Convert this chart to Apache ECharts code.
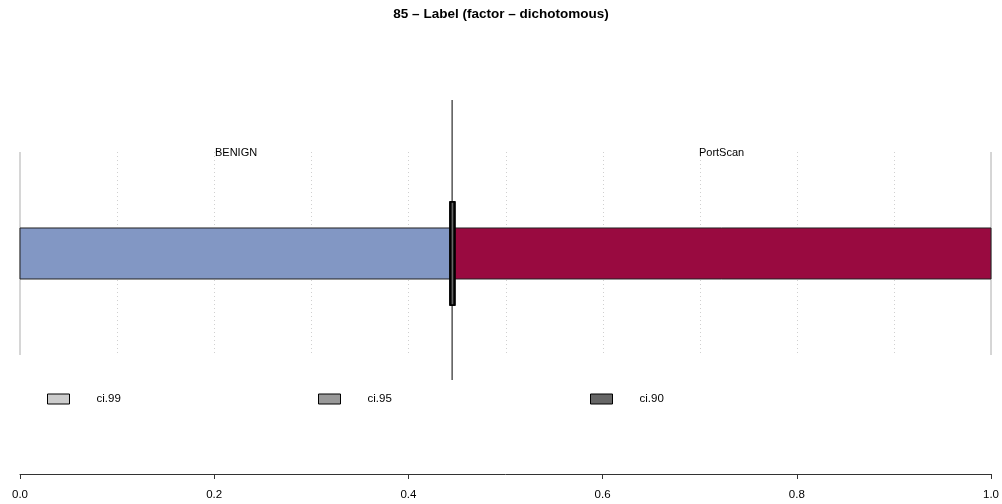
<!DOCTYPE html>
<html>
<head>
<meta charset="utf-8">
<script src="https://cdn.jsdelivr.net/npm/echarts@6/dist/echarts.min.js"></script>
<style>
html,body{margin:0;padding:0;background:#fff;}
#chart{width:1002px;height:504px;}
</style>
</head>
<body>
<div id="chart"></div>
<script>
// ---- data ----
const titleText = '85 \u2013 Label (factor \u2013 dichotomous)';
const categories = ['BENIGN', 'PortScan'];
const proportions = [0.445, 0.555];
const categoryColors = ['#8297C4', '#990A40'];
const ciLevels = ['ci.99', 'ci.95', 'ci.90'];
const ciLow = [0.4427, 0.4432, 0.4437];
const ciHigh = [0.4480, 0.4475, 0.4470];
const ciColors = ['#cccccc', '#999999', '#666666'];
const xTicks = [0, 0.2, 0.4, 0.6, 0.8, 1.0];
const gridLines = [0.1, 0.2, 0.3, 0.4, 0.5, 0.6, 0.7, 0.8, 0.9];
const frameLines = [0, 1];

// ---- layout (units on the hidden y axis) ----
const VLINE_Y = [0.1983, 0.7890];
const BAR_Y = [0.4114, 0.5190];
const CI_Y = [0.3565, 0.5738];
const GRID_Y = [0.2511, 0.6793];
const LABEL_Y = 0.6772;

const FONT = '"Liberation Sans", Arial, Helvetica, sans-serif';

const starts = [];
let acc = 0;
proportions.forEach(p => { starts.push(acc); acc += p; });
const split = proportions[0];

const chart = echarts.init(document.getElementById('chart'), null, {renderer: 'canvas'});

function rectFrom(api, x0, x1, y0, y1) {
  const a = api.coord([x0, y1]);
  const b = api.coord([x1, y0]);
  return {x: a[0], y: a[1], width: b[0] - a[0], height: b[1] - a[1]};
}

const series = [];

// dotted grid lines
series.push({
  type: 'custom', name: 'grid', silent: true, z: 1,
  data: gridLines.map(v => [v]),
  renderItem: (params, api) => {
    const v = api.value(0);
    const a = api.coord([v, GRID_Y[1]]);
    const b = api.coord([v, GRID_Y[0]]);
    const x = Math.round(a[0]) + 0.5;
    return {type: 'line', shape: {x1: x, y1: a[1], x2: x, y2: b[1]},
      style: {stroke: '#d0d0d0', lineWidth: 1, lineDash: [1, 3]}};
  }
});
// solid frame lines at 0 and 1
series.push({
  type: 'custom', name: 'frame', silent: true, z: 1,
  data: frameLines.map(v => [v]),
  renderItem: (params, api) => {
    const v = api.value(0);
    const a = api.coord([v, GRID_Y[1]]);
    const b = api.coord([v, GRID_Y[0]]);
    return {type: 'line', shape: {x1: a[0], y1: a[1], x2: b[0], y2: b[1]},
      style: {stroke: '#c8c8c8', lineWidth: 1.5}};
  }
});

// category bars
series.push({
  type: 'custom', name: 'bars', silent: true, z: 2,
  data: categories.map((c, i) => [starts[i], starts[i] + proportions[i], i]),
  renderItem: (params, api) => {
    const i = api.value(2);
    return {type: 'rect', shape: rectFrom(api, api.value(0), api.value(1), BAR_Y[0], BAR_Y[1]),
      style: {fill: categoryColors[i], stroke: '#222', lineWidth: 1}};
  }
});

// category labels
series.push({
  type: 'custom', name: 'labels', silent: true, z: 3,
  data: categories.map((c, i) => [starts[i] + proportions[i] / 2, i]),
  renderItem: (params, api) => {
    const p = api.coord([api.value(0), LABEL_Y]);
    return {type: 'text', x: p[0], y: p[1],
      style: {text: categories[api.value(1)], fill: '#000', font: '11px ' + FONT, align: 'center', verticalAlign: 'middle'}};
  }
});

// vertical line at split
series.push({
  type: 'custom', name: 'splitline', silent: true, z: 4,
  data: [[split]],
  renderItem: (params, api) => {
    const a = api.coord([api.value(0), VLINE_Y[1]]);
    const b = api.coord([api.value(0), VLINE_Y[0]]);
    return {type: 'line', shape: {x1: a[0], y1: a[1], x2: b[0], y2: b[1]},
      style: {stroke: '#000', lineWidth: 1}};
  }
});

// CI rectangles
ciLevels.forEach((lvl, i) => {
  series.push({
    type: 'custom', name: lvl, z: 5 + i,
    itemStyle: {color: ciColors[i], borderColor: '#000', borderWidth: 1},
    data: [[ciLow[i], ciHigh[i]]],
    renderItem: (params, api) => {
      return {type: 'rect', shape: rectFrom(api, api.value(0), api.value(1), CI_Y[0], CI_Y[1]),
        style: {fill: ciColors[i], stroke: '#000', lineWidth: 1.5}};
    }
  });
});

const legendLefts = [47, 318, 590];
const legends = ciLevels.map((lvl, i) => ({
  data: [lvl],
  left: legendLefts[i], top: 393, padding: 0,
  icon: 'rect', itemWidth: 22, itemHeight: 10,
  itemStyle: {color: ciColors[i], borderColor: '#000', borderWidth: 1},
  selectedMode: false,
  textStyle: {fontFamily: FONT, fontSize: 11.5, color: '#000', padding: [0, 0, 0, 22]}
}));

chart.setOption({
  animation: false,
  backgroundColor: '#fff',
  title: {
    text: titleText, left: 'center', top: 7, padding: 0,
    textStyle: {fontFamily: FONT, fontSize: 13.5, fontWeight: 'bold', color: '#000'}
  },
  legend: legends,
  grid: {left: 20, right: 9, top: 0, bottom: 30, containLabel: false},
  xAxis: {
    type: 'value', min: 0, max: 1, interval: 0.2,
    axisLine: {show: true, lineStyle: {color: '#333', width: 1}},
    axisTick: {show: true, length: 5, lineStyle: {color: '#333'}},
    splitLine: {show: false},
    axisLabel: {
      margin: 15, color: '#000', fontFamily: FONT, fontSize: 11.5,
      formatter: v => xTicks.some(t => Math.abs(t - v) < 1e-9) ? v.toFixed(1) : ''
    }
  },
  yAxis: {type: 'value', min: 0, max: 1, show: false},
  series: series
});
</script>
</body>
</html>
